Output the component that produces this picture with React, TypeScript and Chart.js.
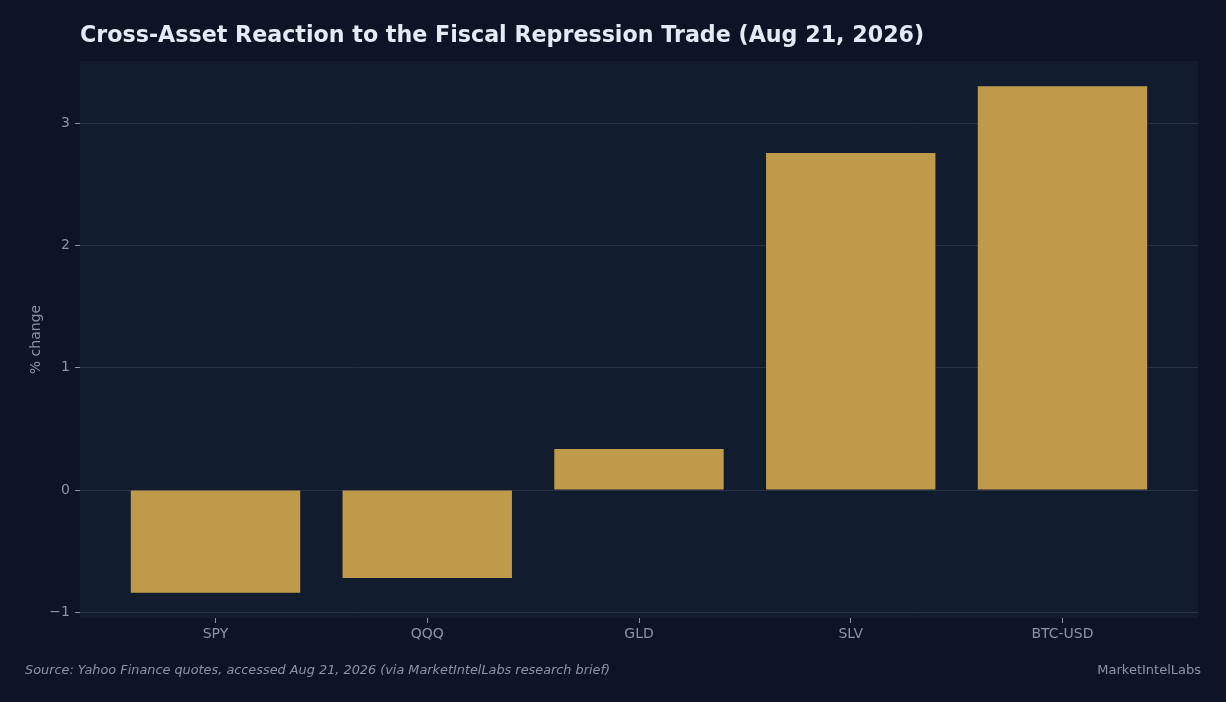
import { useEffect, useRef } from 'react'
import { Chart, registerables } from 'chart.js'

Chart.register(...registerables)

// Tickers and % change on the day
const tickers = ['SPY', 'QQQ', 'GLD', 'SLV', 'BTC-USD']
const pctChange = [-0.84, -0.72, 0.335, 2.755, 3.30]
const yTicks = [-1, 0, 1, 2, 3]

const TITLE = 'Cross-Asset Reaction to the Fiscal Repression Trade (Aug 21, 2026)'
const SOURCE = 'Source: Yahoo Finance quotes, accessed Aug 21, 2026 (via MarketIntelLabs research brief)'
const BRAND = 'MarketIntelLabs'

const PAGE_BG = '#0e1425'
const PLOT_BG = '#111c2f'
const BAR = '#c09a4b'
const GRID = '#283244'
const TEXT_DIM = '#8b93a6'
const FONT = "'DejaVu Sans', sans-serif"

// background, title, y label and footer
const decor = {
  id: 'decor',
  beforeDraw(chart) {
    const { ctx, chartArea } = chart
    ctx.save()
    ctx.fillStyle = PAGE_BG
    ctx.fillRect(0, 0, chart.width, chart.height)
    ctx.fillStyle = PLOT_BG
    ctx.fillRect(chartArea.left, chartArea.top, chartArea.right - chartArea.left, chartArea.bottom - chartArea.top)
    ctx.restore()
  },
  afterDraw(chart) {
    const { ctx, chartArea } = chart
    ctx.save()
    ctx.fillStyle = '#e6eaf4'
    ctx.font = `bold 22.2px ${FONT}`
    ctx.textBaseline = 'alphabetic'
    ctx.textAlign = 'left'
    ctx.fillText(TITLE, 80, 42)

    ctx.fillStyle = TEXT_DIM
    ctx.font = `italic 12.85px ${FONT}`
    ctx.fillText(SOURCE, 25, 674)
    ctx.font = `13px ${FONT}`
    ctx.textAlign = 'right'
    ctx.fillText(BRAND, 1201, 674)

    ctx.translate(36, (chartArea.top + chartArea.bottom) / 2)
    ctx.rotate(-Math.PI / 2)
    ctx.textAlign = 'center'
    ctx.textBaseline = 'middle'
    ctx.font = `14px ${FONT}`
    ctx.fillText('% change', 0, 0)
    ctx.restore()
  },
}

const App = () => {
  const chartRef = useRef<HTMLCanvasElement | null>(null)

  useEffect(() => {
    const ctx = chartRef.current?.getContext('2d')
    if (!ctx) return

    new Chart(ctx, {
      type: 'bar',
      data: {
        datasets: [
          {
            data: pctChange.map((v, i) => ({ x: i, y: v })),
            backgroundColor: BAR,
            barPercentage: 1,
            categoryPercentage: 0.8,
          },
        ],
      },
      options: {
        animation: false,
        responsive: false,
        devicePixelRatio: 1,
        layout: { padding: { top: 61, right: 28, left: 0, bottom: 0 } },
        plugins: {
          legend: { display: false },
          tooltip: { enabled: false },
        },
        scales: {
          x: {
            type: 'linear',
            offset: false,
            min: -0.64,
            max: 4.64,
            afterBuildTicks: (scale) => {
              scale.ticks = tickers.map((_, i) => ({ value: i }))
            },
            afterFit: (scale) => {
              scale.height = 84
            },
            ticks: {
              callback: (v) => tickers[v as number] ?? '',
              color: TEXT_DIM,
              font: { family: FONT, size: 14 },
              padding: 3,
              autoSkip: false,
              maxRotation: 0,
            },
            grid: {
              offset: false,
              drawOnChartArea: false,
              drawTicks: true,
              tickLength: 5,
              tickColor: TEXT_DIM,
            },
            border: { display: false },
          },
          y: {
            min: -1.046,
            max: 3.507,
            afterBuildTicks: (scale) => {
              scale.ticks = yTicks.map((v) => ({ value: v }))
            },
            afterFit: (scale) => {
              scale.width = 80
            },
            ticks: {
              callback: (v) => String(v).replace('-', '\u2212'),
              color: TEXT_DIM,
              font: { family: FONT, size: 14 },
              padding: 5,
            },
            grid: {
              color: GRID,
              drawTicks: true,
              tickLength: 5,
              tickColor: TEXT_DIM,
            },
            border: { display: false },
          },
        },
      },
      plugins: [decor],
    })

    return () => {
      Chart.getChart(ctx)?.destroy()
    }
  }, [])

  return (
    <div style={{ position: 'fixed', left: 0, top: 0, width: 1226, height: 702 }}>
      <canvas ref={chartRef} width={1226} height={702} style={{ width: 1226, height: 702 }} />
    </div>
  )
}

export default App
